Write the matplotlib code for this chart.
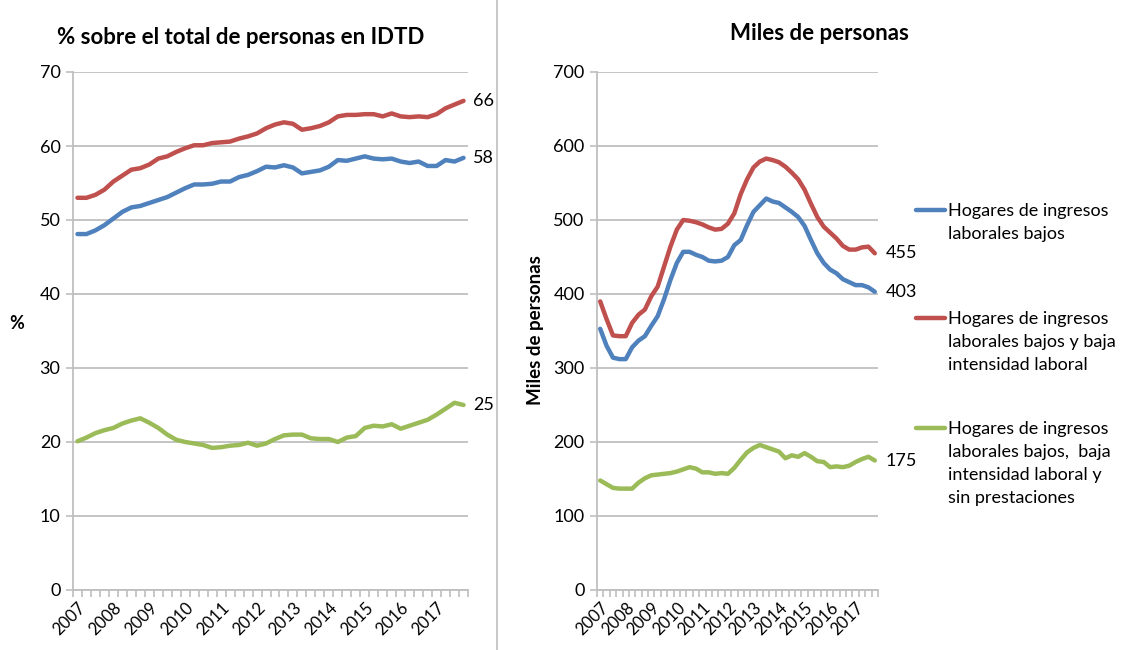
import matplotlib
matplotlib.use("Agg")
import matplotlib.pyplot as plt
from matplotlib.lines import Line2D
import numpy as np

plt.rcParams['font.family'] = ['Lato', 'DejaVu Sans']

# trimestres 2007-I a 2017-IV
years = [str(y) for y in range(2007, 2018)]

pct_bajos = [48.1, 48.1, 48.6, 49.3, 50.2, 51.1, 51.7, 51.9, 52.3, 52.7, 53.1, 53.7, 54.3, 54.8, 54.8,
             54.9, 55.2, 55.2, 55.8, 56.1, 56.6, 57.2, 57.1, 57.4, 57.1, 56.3, 56.5, 56.7, 57.2, 58.1,
             58.0, 58.3, 58.6, 58.3, 58.2, 58.3, 57.9, 57.7, 57.9, 57.3, 57.3, 58.1, 57.9, 58.4]
pct_baja_int = [53.0, 53.0, 53.4, 54.1, 55.2, 56.0, 56.8, 57.0, 57.5, 58.3, 58.6, 59.2, 59.7, 60.1, 60.1,
                60.4, 60.5, 60.6, 61.0, 61.3, 61.7, 62.4, 62.9, 63.2, 63.0, 62.2, 62.4, 62.7, 63.2, 64.0,
                64.2, 64.2, 64.3, 64.3, 64.0, 64.4, 64.0, 63.9, 64.0, 63.9, 64.3, 65.1, 65.6, 66.1]
pct_sin_prest = [20.1, 20.6, 21.2, 21.6, 21.9, 22.5, 22.9, 23.2, 22.6, 21.9, 21.0, 20.3, 20.0, 19.8, 19.6,
                 19.2, 19.3, 19.5, 19.6, 19.9, 19.5, 19.8, 20.4, 20.9, 21.0, 21.0, 20.5, 20.4, 20.4, 20.0,
                 20.6, 20.8, 21.9, 22.2, 22.1, 22.4, 21.8, 22.2, 22.6, 23.0, 23.7, 24.5, 25.3, 25.0]

miles_bajos = [353, 330, 314, 312, 312, 328, 337, 343, 357, 370, 393, 419, 442, 457, 457, 453, 450, 445,
               444, 445, 450, 466, 473, 493, 511, 520, 529, 525, 523, 517, 511, 504, 492, 473, 455, 442,
               433, 428, 420, 416, 412, 412, 409, 403]
miles_baja_int = [390, 366, 344, 343, 343, 361, 372, 379, 397, 410, 437, 464, 487, 500, 499, 497, 494, 490,
                  487, 488, 495, 509, 535, 555, 571, 579, 583, 581, 578, 572, 564, 555, 541, 522, 504, 491,
                  483, 475, 465, 460, 460, 463, 464, 455]
miles_sin_prest = [148, 143, 138, 137, 137, 137, 145, 151, 155, 156, 157, 158, 160, 163, 166, 164, 159, 159,
                   157, 158, 157, 165, 176, 186, 192, 196, 193, 190, 187, 178, 182, 180, 185, 180, 174, 173,
                   166, 167, 166, 168, 173, 177, 180, 175]

labels = ["Hogares de ingresos\nlaborales bajos",
          "Hogares de ingresos\nlaborales bajos y baja\nintensidad laboral",
          "Hogares de ingresos\nlaborales bajos,  baja\nintensidad laboral y\nsin prestaciones"]
colors = ['#4F81BD', '#C0504D', '#9BBB59']

W, H = 1127, 650
fig = plt.figure(figsize=(W / 100, H / 100), dpi=100)
ax1 = fig.add_axes([73 / W, 60 / H, 395 / W, 518 / H])
ax2 = fig.add_axes([597 / W, 60 / H, 281 / W, 518 / H])

n = len(pct_bajos)
x = np.arange(n)
grey = '#BFBFBF'
fs = 13


def style(ax, top, step):
    ax.set_xlim(-0.5, n - 0.5)
    ax.set_ylim(0, top)
    ax.set_yticks(np.arange(0, top + 1, step))
    ax.grid(True, axis='y', color=grey, lw=1.3)
    ax.set_axisbelow(True)
    for s in ['top', 'right']:
        ax.spines[s].set_visible(False)
    for s in ['left', 'bottom']:
        ax.spines[s].set_color(grey)
        ax.spines[s].set_linewidth(1.3)
    ax.set_xticks(np.arange(0, n, 4))
    ax.set_xticklabels(years, rotation=45, ha='right', rotation_mode='anchor', fontsize=12)
    ax.tick_params(axis='x', which='major', length=0, pad=7)
    ax.set_xticks(np.arange(-0.5, n, 1), minor=True)
    ax.tick_params(axis='x', which='minor', length=5, color=grey, width=1.2)
    ax.tick_params(axis='y', length=5, color=grey, width=1.2, labelsize=fs, pad=4)


series1 = [pct_bajos, pct_baja_int, pct_sin_prest]
series2 = [miles_bajos, miles_baja_int, miles_sin_prest]

for ys, c in zip(series1, colors):
    ax1.plot(x, ys, color=c, lw=3.2, solid_capstyle='round')
    ax1.annotate(f"{ys[-1]:.0f}", xy=(x[-1], ys[-1]), xytext=(7, 0), textcoords='offset points',
                 va='center', fontsize=fs)
for ys, c in zip(series2, colors):
    ax2.plot(x, ys, color=c, lw=3.2, solid_capstyle='round')
    ax2.annotate(f"{ys[-1]:.0f}", xy=(x[-1], ys[-1]), xytext=(8, 0), textcoords='offset points',
                 va='center', fontsize=fs)

style(ax1, 70, 10)
style(ax2, 700, 100)

ax1.set_ylabel('%', rotation=0, fontweight='bold', fontsize=fs)
ax1.yaxis.set_label_coords(-0.142, 0.498)
ax2.set_ylabel('Miles de personas', fontweight='bold', fontsize=13.5)
ax2.yaxis.set_label_coords(-0.187, 0.502)

fig.text(241 / W, 1 - 38 / H, '% sobre el total de personas en IDTD', ha='center', va='center',
         fontweight='bold', fontsize=16)
fig.text(819 / W, 1 - 33 / H, 'Miles de personas', ha='center', va='center',
         fontweight='bold', fontsize=16)

# separador entre paneles
fig.add_artist(Line2D([497 / W, 497 / W], [0, 1], color=grey, lw=1.2, transform=fig.transFigure))

# leyenda
leg_y = [210, 318, 428]
for lab, c, yy in zip(labels, colors, leg_y):
    fig.add_artist(Line2D([916 / W, 945 / W], [1 - yy / H] * 2, color=c, lw=3.2,
                          transform=fig.transFigure, solid_capstyle='round'))
    fig.text(948 / W, 1 - (yy - 7) / H, lab, ha='left', va='top', fontsize=fs, linespacing=1.53)

fig.savefig('out.png', dpi=100, facecolor='white')
